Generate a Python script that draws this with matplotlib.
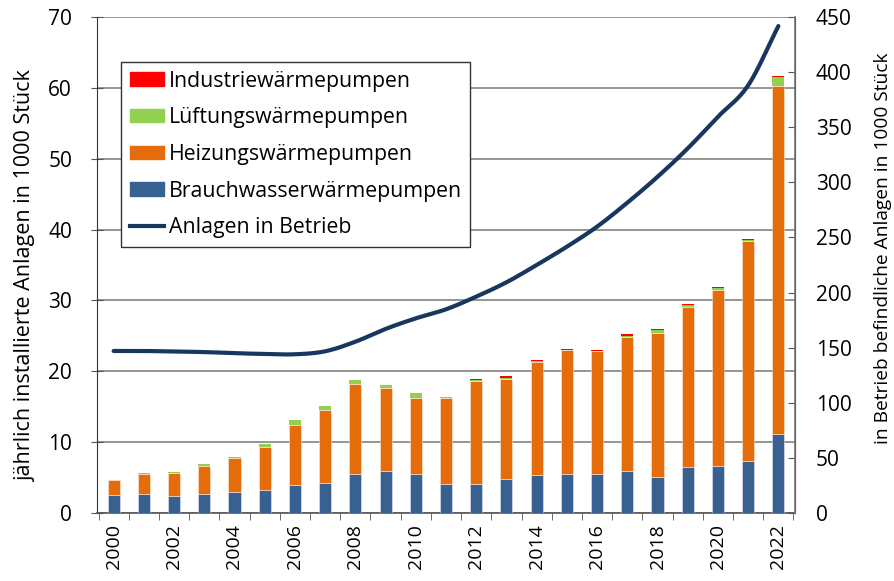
import numpy as np
import matplotlib
matplotlib.use("Agg")
import matplotlib.pyplot as plt
from matplotlib.patches import Patch
from matplotlib.lines import Line2D

years = list(range(2000, 2023))
brauchwasser = [2.6, 2.7, 2.4, 2.7, 3.0, 3.2, 3.9, 4.3, 5.5, 5.9, 5.5, 4.1, 4.15, 4.75,
                5.4, 5.5, 5.5, 5.9, 5.15, 6.5, 6.7, 7.3, 11.2]
heizung = [2.0, 2.8, 3.25, 3.95, 4.7, 6.1, 8.5, 10.3, 12.7, 11.7, 10.8, 12.2, 14.45, 14.1,
           15.9, 17.45, 17.35, 18.9, 20.3, 22.6, 24.8, 31.1, 49.1]
lueftung = [0.1, 0.12, 0.12, 0.3, 0.25, 0.4, 0.7, 0.55, 0.5, 0.45, 0.65, 0.12, 0.2, 0.25,
            0.1, 0.1, 0.05, 0.2, 0.4, 0.25, 0.25, 0.15, 1.25]
industrie = [0, 0, 0, 0, 0, 0, 0, 0, 0, 0, 0, 0, 0.1, 0.2,
             0.15, 0.1, 0.15, 0.2, 0.15, 0.15, 0.15, 0.15, 0.15]
in_betrieb = [147, 147, 146.5, 146, 145, 144.3, 144, 146.7, 155.4, 167, 176.6, 184.8,
              196.3, 209.3, 225, 241.6, 259.8, 281.5, 305, 330.8, 359.5, 388, 441.8]

c_blue = "#386192"
c_orange = "#E46C0A"
c_green = "#92D050"
c_red = "#FF0000"
c_line = "#17375E"
FONT = "Open Sans"

W, H = 894, 581
fig = plt.figure(figsize=(W/100, H/100), dpi=100)
ax = fig.add_axes([97/W, 1-513/H, (795-97)/W, (513-17)/H])
ax2 = ax.twinx()

x = np.arange(len(years))
b = np.array(brauchwasser)
h = np.array(heizung)
l = np.array(lueftung)
i_ = np.array(industrie)
w = 0.4
ec = (1, 1, 1, 0.5)
ax.bar(x, b, w, color=c_blue, edgecolor=ec, linewidth=0.6, zorder=3)
ax.bar(x, h, w, bottom=b, color=c_orange, edgecolor=ec, linewidth=0.6, zorder=3)
ax.bar(x, l, w, bottom=b+h, color=c_green, edgecolor=ec, linewidth=0.0, zorder=3)
ax.bar(x, i_, w, bottom=b+h+l, color=c_red, edgecolor=ec, linewidth=0.0, zorder=3)

# smoothed line (Catmull-Rom through data points)
y = np.array(in_betrieb, dtype=float)
xs_all, ys_all = [], []
P = np.column_stack([x.astype(float), y])
Pext = np.vstack([2*P[0]-P[1], P, 2*P[-1]-P[-2]])
for k in range(1, len(Pext)-2):
    p0, p1, p2, p3 = Pext[k-1], Pext[k], Pext[k+1], Pext[k+2]
    t = np.linspace(0, 1, 20, endpoint=False)[:, None]
    pts = 0.5*((2*p1) + (-p0+p2)*t + (2*p0-5*p1+4*p2-p3)*t**2 + (-p0+3*p1-3*p2+p3)*t**3)
    xs_all.append(pts[:, 0]); ys_all.append(pts[:, 1])
xs_all.append([P[-1, 0]]); ys_all.append([P[-1, 1]])
ax2.plot(np.concatenate(xs_all), np.concatenate(ys_all), color=c_line, lw=3.0,
         solid_capstyle="round", zorder=4)

ax.set_xlim(-0.55, len(years)-0.45)
ax.set_ylim(0, 70)
ax2.set_ylim(0, 450)
ax.set_yticks(range(0, 71, 10))
ax2.set_yticks(range(0, 451, 50))
ax.yaxis.grid(True, color="#8c8c8c", lw=1.3, zorder=0)
ax.set_axisbelow(True)

ax.set_xticks(x[::2])
ax.set_xticklabels([str(v) for v in years[::2]], rotation=90, family=FONT, fontsize=14)
ax.set_xticks(np.arange(-0.5, len(years), 1), minor=True)
ax.tick_params(axis="x", which="major", length=0, pad=8)
ax.tick_params(axis="x", which="minor", length=5, direction="out", color="#555555")
ax.tick_params(axis="y", direction="inout", length=8, color="#555555", labelsize=15, pad=14)
ax2.tick_params(axis="y", direction="in", length=5, color="#555555", labelsize=15, pad=15)
for lab in ax.get_yticklabels() + ax2.get_yticklabels():
    lab.set_family(FONT)

for s in ["top"]:
    ax.spines[s].set_visible(False)
    ax2.spines[s].set_visible(False)
ax.spines["left"].set_color("#333333")
ax.spines["bottom"].set_color("#555555")
ax.spines["bottom"].set_linewidth(1.2)
ax2.spines["right"].set_color("#777777")
ax2.spines["right"].set_linewidth(1.2)
ax2.spines["left"].set_visible(False)
ax2.spines["bottom"].set_visible(False)

fig.text(26/W, 1-276/H, "jährlich installierte Anlagen in 1000 Stück", rotation=90,
         ha="center", va="center", family=FONT, fontsize=15.5)
fig.text(883/W, 1-248/H, "in Betrieb befindliche Anlagen in 1000 Stück", rotation=90,
         ha="center", va="center", family=FONT, fontsize=13.8)

handles = [Patch(color=c_red), Patch(color=c_green), Patch(color=c_orange),
           Patch(color=c_blue), Line2D([], [], color=c_line, lw=3)]
labels = ["Industriewärmepumpen", "Lüftungswärmepumpen", "Heizungswärmepumpen",
          "Brauchwasserwärmepumpen", "Anlagen in Betrieb"]
leg = ax2.legend(handles, labels, loc="upper left",
                 bbox_to_anchor=(121/W, 1-62/H), bbox_transform=fig.transFigure,
                 prop=dict(family=FONT, size=15.3), frameon=True, fancybox=False,
                 edgecolor="#333333", framealpha=1, borderpad=0.4, labelspacing=0.74,
                 handlelength=1.6, handleheight=0.6, handletextpad=0.25, borderaxespad=0)
leg.get_frame().set_linewidth(1.0)
leg.set_zorder(10)

fig.savefig("out.png", dpi=100)
